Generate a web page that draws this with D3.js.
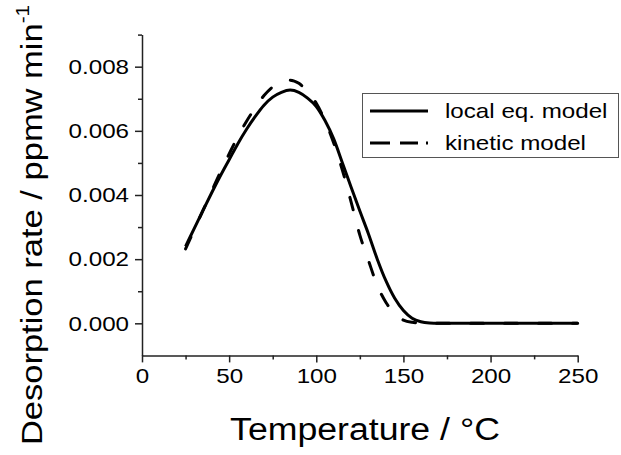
<!DOCTYPE html>
<html>
<head>
<meta charset="utf-8">
<script src="https://cdn.jsdelivr.net/npm/d3@7"></script>
<style>
  body { margin: 0; background: #fff; }
  text { font-family: "Liberation Sans", Arial, sans-serif; fill: #000; }
</style>
</head>
<body>
<div id="chart"></div>
<script>
// temperature grid (deg C)
var temps = [25,30,35,40,45,50,55,60,65,70,75,80,85,90,95,100,105,110,115,120,
             125,130,135,140,145,150,155,160,165,170,180,190,200,210,220,230,240,250];
// local equilibrium model
var localEq = [0.00240,0.00296,0.00352,0.00407,0.00460,0.00510,0.00560,0.00605,0.00645,0.00680,
               0.00705,0.00720,0.00727,0.00720,0.00702,0.00676,0.00632,0.00575,0.00500,0.00424,
               0.00350,0.00278,0.00200,0.00132,0.00078,0.00040,0.00016,0.00005,0.00001,0,
               0,0,0,0,0,0,0,0];
// kinetic model
var kinetic = [0.00232,0.00292,0.00352,0.00412,0.00472,0.00528,0.00582,0.00630,0.00672,0.00710,
               0.00737,0.00752,0.00758,0.00748,0.00722,0.00686,0.00632,0.00562,0.00477,0.00378,
               0.00275,0.00195,0.00118,0.00065,0.00030,0.00010,0.00003,0.00001,0,0,
               0,0,0,0,0,0,0,0];
var xTicks = [0,50,100,150,200,250];
var xMinor = [25,75,125,175,225];
var yTicks = [0,0.002,0.004,0.006,0.008];
var yMinor = [0.001,0.003,0.005,0.007,0.009];
var seriesNames = ["local eq. model","kinetic model"];

var width = 621, height = 455;
var K = 1.15; // glyphs in the original are wider than Arial

var svg = d3.select("#chart").append("svg")
    .attr("width", width)
    .attr("height", height);

var x = d3.scaleLinear().domain([0,250]).range([142,577.7]);
var y = d3.scaleLinear().domain([-0.001,0.009]).range([355.4,34.6]);

function stretch(sel){
  sel.each(function(){
    var w = this.getComputedTextLength();
    d3.select(this).attr("textLength", w*K).attr("lengthAdjust","spacingAndGlyphs");
  });
}

// axes
var gx = svg.append("g").attr("transform","translate(0,"+y(-0.001)+")")
    .call(d3.axisBottom(x).tickValues(xTicks).tickSize(7).tickSizeOuter(0).tickPadding(6));
svg.append("g").attr("transform","translate(0,"+y(-0.001)+")")
    .call(d3.axisBottom(x).tickValues(xMinor).tickSize(4).tickSizeOuter(0).tickFormat(""))
    .select(".domain").remove();
var gy = svg.append("g").attr("transform","translate("+x(0)+",0)")
    .call(d3.axisLeft(y).tickValues(yTicks).tickFormat(d3.format(".3f")).tickSize(7).tickSizeOuter(0).tickPadding(6));
svg.append("g").attr("transform","translate("+x(0)+",0)")
    .call(d3.axisLeft(y).tickValues(yMinor).tickSize(4).tickSizeOuter(0).tickFormat(""))
    .select(".domain").remove();

svg.selectAll(".domain").attr("stroke","#222").attr("stroke-width",1.5);
svg.selectAll(".tick line").attr("stroke","#222").attr("stroke-width",1.5);
svg.selectAll(".tick text")
    .style("font-family","'Liberation Sans', Arial, sans-serif")
    .style("font-size","21px")
    .attr("fill","#000")
    .call(stretch);

// lines
var rows = temps.map(function(t,i){ return {t:t, a:localEq[i], b:kinetic[i]}; });
var lineA = d3.line().x(d=>x(d.t)).y(d=>y(d.a)).curve(d3.curveMonotoneX);
var lineB = d3.line().x(d=>x(d.t)).y(d=>y(d.b)).curve(d3.curveMonotoneX);

svg.append("path").datum(rows)
    .attr("d", lineA)
    .attr("fill","none").attr("stroke","#000").attr("stroke-width",3);
svg.append("path").datum(rows)
    .attr("d", lineB)
    .attr("fill","none").attr("stroke","#000").attr("stroke-width",3)
    .attr("stroke-linecap","round")
    .attr("stroke-dasharray","13,21");

// axis titles
svg.append("text")
    .attr("x",365).attr("y",440)
    .attr("text-anchor","middle")
    .style("font-size","31px")
    .text("Temperature / °C")
    .call(stretch);

var yt = svg.append("text")
    .attr("transform","translate(42,225) rotate(-90)")
    .attr("text-anchor","middle")
    .style("font-size","30px");
yt.append("tspan").text("Desorption rate / ppmw min");
yt.append("tspan").attr("dy",-13).style("font-size","18px").text("-1");
yt.call(stretch);

// legend
var leg = svg.append("g");
leg.append("rect")
    .attr("x",362.5).attr("y",93.5).attr("width",256).attr("height",64)
    .attr("fill","#fff").attr("stroke","#555").attr("stroke-width",1);
var dashes = [null, "20,10,18,8"];
seriesNames.forEach(function(name,i){
  var ly = 111 + i*32;
  leg.append("line")
    .attr("x1",370).attr("x2",428).attr("y1",ly).attr("y2",ly)
    .attr("stroke","#000").attr("stroke-width",3)
    .attr("stroke-dasharray", dashes[i]);
  leg.append("text")
    .attr("x",445).attr("y",ly+7)
    .style("font-size","21px")
    .text(name)
    .call(stretch);
});
</script>
</body>
</html>
